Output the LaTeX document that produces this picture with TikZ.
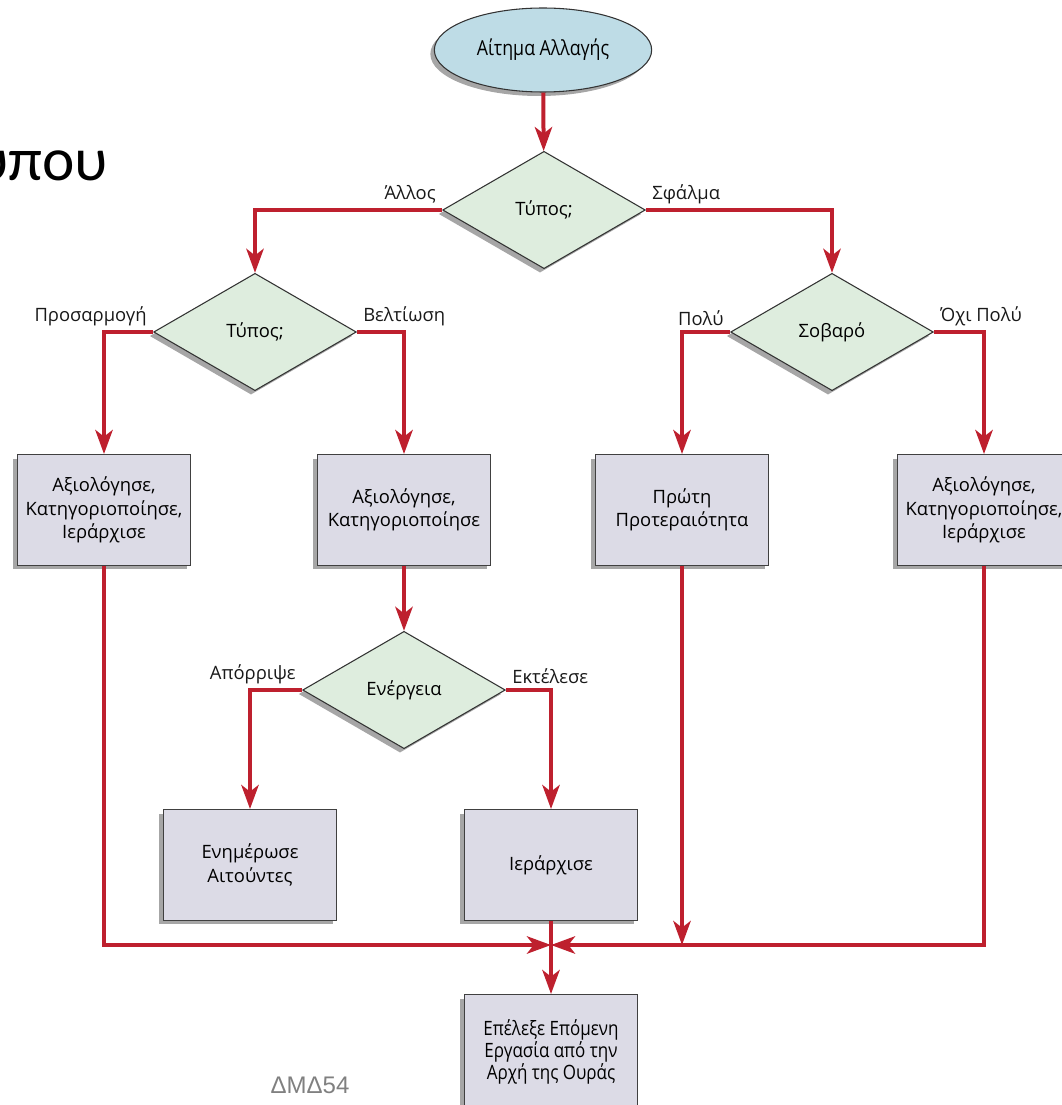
\documentclass[tikz,border=0pt]{standalone}
\usepackage{fontspec}
\setmainfont{Open Sans}
\newfontfamily\narrowfont[FakeStretch=0.86]{Open Sans}
\newfontfamily\slidefont{Carlito}
\newfontfamily\tagfont{Liberation Sans}
\usepackage{tikz}
\usetikzlibrary{arrows.meta,positioning,shapes.geometric,shadows}
\definecolor{flowred}{RGB}{190,32,46}
\definecolor{boxfill}{RGB}{220,219,230}
\definecolor{decfill}{RGB}{222,237,222}
\definecolor{startfill}{RGB}{190,220,230}

\begin{document}
\begin{tikzpicture}[x=0.75pt,y=-0.75pt,font=\fontsize{13.8}{17.6}\selectfont]
\tikzset{shade/.style={drop shadow={shadow xshift=-3pt,shadow yshift=-3pt,opacity=0.35,fill=black}}}
\tikzset{task/.style={draw=black!75,line width=1pt,fill=boxfill,minimum width=130pt,minimum height=83pt,align=center,shade}}
\tikzset{decision/.style={diamond,draw=black!80,line width=0.8pt,fill=decfill,minimum width=152pt,minimum height=88pt,inner sep=0pt,shade}}
\tikzset{flow/.style={flowred,line width=3pt,-{Stealth[length=18pt,width=13pt,inset=5pt]}}}
\tikzset{line/.style={flowred,line width=3pt}}
\tikzset{branch/.style={text=black!90}}
\useasboundingbox (0,0) rectangle (1061,1105);
% slide title fragment
\node[font=\slidefont\fontsize{46}{46}\selectfont,anchor=base east,inner sep=0pt] (title) at (108,181) {υπου};
% start
\node[ellipse,draw=black!80,line width=0.8pt,fill=startfill,minimum width=163pt,minimum height=63pt,shade,font=\narrowfont\fontsize{15.5}{18}\selectfont] (req) at (543,50) {Αίτημα Αλλαγής};
% decisions
\node[decision] (type1) at (544,210) {Τύπος;};
\node[decision] (type2) at (255,332) {Τύπος;};
\node[decision] (severe) at (832,332) {Σοβαρό};
\node[decision] (action) at (404,690) {Ενέργεια};
% tasks
\node[task] (rate1) at (104,510) {Αξιολόγησε,\\Κατηγοριοποίησε,\\Ιεράρχισε};
\node[task] (rate2) at (404,510) {Αξιολόγησε,\\Κατηγοριοποίησε};
\node[task] (first) at (682,510) {Πρώτη\\Προτεραιότητα};
\node[task] (rate3) at (984,510) {Αξιολόγησε,\\Κατηγοριοποίησε,\\Ιεράρχισε};
\node[task] (notify) at (250,865) {Ενημέρωσε\\Αιτούντες};
\node[task] (rank) at (551,865) {Ιεράρχισε};
\node[task,minimum height=86pt,font=\narrowfont\fontsize{14.8}{16.5}\selectfont] (next) at (551,1052) {Επέλεξε Επόμενη\\Εργασία από την\\Αρχή της Ουράς};
\coordinate (join) at (551,945);
\node[font=\tagfont\fontsize{18}{18}\selectfont,text=black!50] (code) at (310,1085) {ΔΜΔ54};
% connectors
\draw[flow] (req) -- (type1);
\draw[flow] (type1.west) node[branch,above left]{Άλλος} -| (type2.north);
\draw[flow] (type1.east) node[branch,above right]{Σφάλμα} -| (severe.north);
\draw[flow] (type2.west) node[branch,above left]{Προσαρμογή} -| (rate1.north);
\draw[flow] (type2.east) node[branch,above right]{Βελτίωση} -| (rate2.north);
\draw[flow] (severe.west) node[branch,above left]{Πολύ} -| (first.north);
\draw[flow] (severe.east) node[branch,above right]{Όχι Πολύ} -| (rate3.north);
\draw[flow] (rate2) -- (action);
\draw[flow] (action.west) node[branch,above left]{Απόρριψε} -| (notify.north);
\draw[flow] (action.east) node[branch,above right]{Εκτέλεσε} -| (rank.north);
% merge into the queue
\draw[flow] (rate1.south) |- (join);
\draw[flow] (rate3.south) |- (join);
\draw[flow] (first.south) -- (first.south |- join);
\draw[line] (rank) -- (join);
\draw[flow] (join) -- (next);
\end{tikzpicture}
\end{document}
